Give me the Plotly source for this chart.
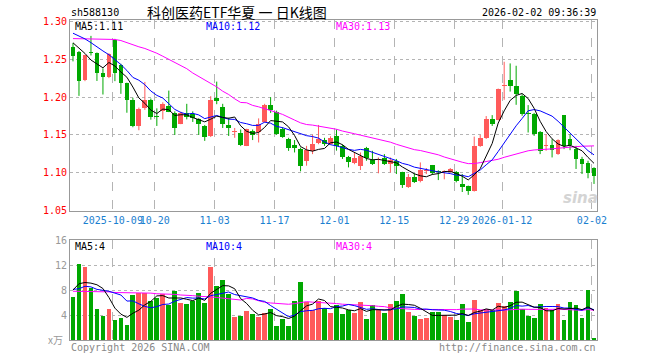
import numpy as np
import pandas as pd
import plotly.graph_objects as go

# ---------------- data ----------------
holidays = ["2025-10-01", "2025-10-02", "2025-10-03", "2025-10-06", "2025-10-07",
            "2025-10-08", "2026-01-01", "2026-01-02"]
dates = [d.strftime("%Y-%m-%d") for d in pd.bdate_range("2025-09-22", "2026-02-02")
         if d.strftime("%Y-%m-%d") not in holidays]

open_ = [1.2665, 1.2599, 1.2226, 1.2590, 1.2586, 1.2313, 1.2270, 1.2753, 1.2428, 1.2186,
         1.1963, 1.1617, 1.1853, 1.1967, 1.1752, 1.1814, 1.1880, 1.1792, 1.1647, 1.1783,
         1.1770, 1.1704, 1.1616, 1.1484, 1.1993, 1.1866, 1.1626, 1.1540, 1.1524, 1.1358,
         1.1555, 1.1534, 1.1674, 1.1889, 1.1800, 1.1580, 1.1450, 1.1362, 1.1318, 1.1156,
         1.1287, 1.1397, 1.1432, 1.1384, 1.1485, 1.1353, 1.1209, 1.1125, 1.1090, 1.1322,
         1.1165, 1.1160, 1.1187, 1.1112, 1.1156, 1.1003, 1.0805, 1.0937, 1.0893, 1.1016,
         1.1094, 1.1008, 1.1003, 1.1003, 1.1003, 1.0849, 1.0818, 1.0761, 1.1353, 1.1454,
         1.1713, 1.1700, 1.2147, 1.2226, 1.2147, 1.2015, 1.1779, 1.1779, 1.1542, 1.1357,
         1.1366, 1.1252, 1.1757, 1.1450, 1.1318, 1.1178, 1.1121, 1.1055]
high = [1.2717, 1.2610, 1.2560, 1.2810, 1.2590, 1.2380, 1.2580, 1.2770, 1.2440, 1.2190,
        1.1990, 1.1860, 1.2200, 1.1980, 1.1850, 1.1930, 1.2085, 1.1810, 1.1805, 1.1910,
        1.1810, 1.1720, 1.1630, 1.2011, 1.2204, 1.1910, 1.1726, 1.1590, 1.1570, 1.1580,
        1.1570, 1.1717, 1.1910, 1.1998, 1.1820, 1.1600, 1.1460, 1.1430, 1.1330, 1.1353,
        1.1500, 1.1630, 1.1460, 1.1480, 1.1570, 1.1370, 1.1220, 1.1266, 1.1266, 1.1340,
        1.1288, 1.1200, 1.1244, 1.1200, 1.1180, 1.1010, 1.0980, 1.0990, 1.1134, 1.1060,
        1.1100, 1.1030, 1.1030, 1.1060, 1.1020, 1.0980, 1.0827, 1.1476, 1.1498, 1.1748,
        1.1760, 1.2112, 1.2467, 1.2445, 1.2414, 1.2037, 1.1893, 1.1790, 1.1550, 1.1507,
        1.1441, 1.1440, 1.1757, 1.1507, 1.1353, 1.1208, 1.1156, 1.1070]
low = [1.2472, 1.2015, 1.2210, 1.2550, 1.2213, 1.2033, 1.2250, 1.2210, 1.2042, 1.1792,
       1.1600, 1.1560, 1.1830, 1.1700, 1.1617, 1.1704, 1.1800, 1.1498, 1.1640, 1.1704,
       1.1670, 1.1498, 1.1419, 1.1470, 1.1905, 1.1590, 1.1484, 1.1460, 1.1350, 1.1350,
       1.1430, 1.1398, 1.1660, 1.1790, 1.1500, 1.1460, 1.1287, 1.1266, 1.1016, 1.1090,
       1.1244, 1.1375, 1.1353, 1.1370, 1.1290, 1.1180, 1.1068, 1.1110, 1.1033, 1.1156,
       1.1100, 1.0990, 1.1100, 1.1000, 1.0980, 1.0796, 1.0796, 1.0862, 1.0870, 1.0980,
       1.0970, 1.0900, 1.0910, 1.1000, 1.0870, 1.0742, 1.0704, 1.0748, 1.1340, 1.1445,
       1.1617, 1.1690, 1.1963, 1.2072, 1.1897, 1.1752, 1.1530, 1.1485, 1.1244, 1.1288,
       1.1200, 1.1234, 1.1310, 1.1296, 1.1047, 1.0980, 1.0924, 1.0849]
close = [1.2542, 1.2217, 1.2555, 1.2580, 1.2314, 1.2268, 1.2568, 1.2322, 1.2186, 1.1967,
         1.1617, 1.1848, 1.1963, 1.1739, 1.1740, 1.1911, 1.1805, 1.1586, 1.1783, 1.1739,
         1.1726, 1.1638, 1.1471, 1.1958, 1.1941, 1.1639, 1.1586, 1.1555, 1.1371, 1.1577,
         1.1502, 1.1647, 1.1893, 1.1823, 1.1515, 1.1472, 1.1322, 1.1322, 1.1090, 1.1296,
         1.1384, 1.1441, 1.1384, 1.1463, 1.1353, 1.1200, 1.1134, 1.1187, 1.1222, 1.1187,
         1.1112, 1.1166, 1.1112, 1.1165, 1.1090, 1.0836, 1.0945, 1.0880, 1.1033, 1.1025,
         1.0989, 1.1003, 1.1015, 1.1046, 1.0884, 1.0805, 1.0761, 1.1353, 1.1454, 1.1713,
         1.1647, 1.2108, 1.2160, 1.2147, 1.2042, 1.1779, 1.1772, 1.1516, 1.1287, 1.1362,
         1.1296, 1.1432, 1.1353, 1.1366, 1.1178, 1.1112, 1.0994, 1.0958]
volume = [6.9, 12.2, 11.7, 8.4, 5.0, 3.9, 5.0, 3.2, 3.6, 2.4,
          7.2, 7.5, 7.5, 6.3, 6.8, 7.4, 5.6, 7.8, 6.0, 5.8,
          6.3, 7.6, 6.0, 11.7, 8.6, 9.6, 7.4, 3.7, 3.8, 4.7,
          4.2, 3.7, 4.4, 5.0, 2.2, 3.4, 2.2, 6.3, 9.3, 6.1,
          4.8, 6.3, 5.1, 4.4, 5.6, 4.2, 4.8, 4.4, 6.1, 3.4,
          5.6, 4.8, 4.4, 5.8, 6.3, 7.4, 4.5, 3.8, 3.4, 3.5,
          4.5, 4.5, 4.0, 3.7, 3.2, 5.8, 2.9, 6.4, 4.8, 5.0,
          4.8, 6.0, 5.5, 6.1, 7.8, 4.9, 3.9, 3.6, 5.8, 5.2,
          4.8, 5.8, 3.2, 6.1, 5.6, 3.6, 8.0, 0.4]

# moving-average values before enough history exists in this window
ma5_head = [1.2718, 1.2650, 1.2577, 1.2490]
ma10_head = [1.2845, 1.2810, 1.2770, 1.2720, 1.2660, 1.2610, 1.2560, 1.2500, 1.2430]
ma30_head = [1.2774, 1.2772, 1.2770, 1.2768, 1.2767, 1.2766, 1.2765, 1.2762, 1.2748, 1.2718,
             1.2687, 1.2665, 1.2643, 1.2615, 1.2580, 1.2540, 1.2498, 1.2458, 1.2419, 1.2375,
             1.2318, 1.2274, 1.2231, 1.2178, 1.2134, 1.2077, 1.2033, 1.1976, 1.1928]
vma5_head = [8.0, 9.0, 9.2, 9.1]
vma10_head = [8.1, 8.2, 8.6, 8.5, 8.1, 8.0, 7.8, 7.5, 7.2]
vma30_head = [7.8, 7.8, 7.8, 7.8, 7.7, 7.7, 7.7, 7.6, 7.6, 7.6,
              7.6, 7.5, 7.5, 7.5, 7.4, 7.4, 7.3, 7.3, 7.2, 7.2,
              7.1, 7.0, 7.0, 6.9, 6.8, 6.7, 6.6, 6.5, 6.4]

price_ticks = [1.05, 1.10, 1.15, 1.20, 1.25, 1.30]
vol_ticks = [4, 8, 12, 16]
date_ticks = ["2025-10-09", "2025-10-20", "2025-11-03", "2025-11-17", "2025-12-01",
              "2025-12-15", "2025-12-29", "2026-01-12", "2026-02-02"]
date_tick_text = ["2025-10-09", "10-20", "11-03", "11-17", "12-01", "12-15", "12-29",
                  "2026-01-12", "02-02"]
ma_labels = ["MA5:1.11", "MA10:1.12", "MA30:1.13"]
vma_labels = ["MA5:4", "MA10:4", "MA30:4"]

# ---------------- derived ----------------
n = len(dates)
assert n == len(close) == len(volume) == 88
idx = np.arange(n)
O, H, L, C, V = map(np.array, (open_, high, low, close, volume))


def moving(vals, w, head):
    s = pd.Series(vals).rolling(w).mean().to_numpy()
    s[:w - 1] = head
    return s


ma5, ma10, ma30 = moving(C, 5, ma5_head), moving(C, 10, ma10_head), moving(C, 30, ma30_head)
vma5, vma10, vma30 = moving(V, 5, vma5_head), moving(V, 10, vma10_head), moving(V, 30, vma30_head)

RED, GREEN = "#ff5a5a", "#00a800"
up = C >= O
colors = np.where(up, RED, GREEN)
body_base = np.minimum(O, C)
body_h = np.maximum(np.abs(C - O), 0.0012)

fig = go.Figure()
fig.add_trace(go.Bar(x=idx, y=body_h, base=body_base, width=0.8,
                     marker=dict(color=colors, line=dict(width=0)),
                     xaxis="x", yaxis="y", hoverinfo="skip"))


def wick_xy(mask):
    xs, ys = [], []
    for i in idx[mask]:
        xs += [i, i, None]
        ys += [L[i], H[i], None]
    return xs, ys


for mask, col in ((up, RED), (~up, GREEN)):
    wx, wy = wick_xy(mask)
    fig.add_trace(go.Scatter(x=wx, y=wy, mode="lines", line=dict(color=col, width=1),
                             xaxis="x", yaxis="y", hoverinfo="skip"))

for s, col in ((ma30, "#ff00ff"), (ma10, "#0000ff"), (ma5, "#000000")):
    fig.add_trace(go.Scatter(x=idx, y=s, mode="lines", line=dict(color=col, width=1),
                             xaxis="x", yaxis="y"))

fig.add_trace(go.Bar(x=idx, y=V, width=0.8, marker=dict(color=colors, line=dict(width=0)),
                     xaxis="x2", yaxis="y2", hoverinfo="skip"))
for s, col in ((vma30, "#ff00ff"), (vma10, "#0000ff"), (vma5, "#000000")):
    fig.add_trace(go.Scatter(x=idx, y=s, mode="lines", line=dict(color=col, width=1),
                             xaxis="x2", yaxis="y2"))

tickpos = [dates.index(d) - 0.35 for d in date_ticks]
MONO = "DejaVu Sans Mono"
axis_common = dict(showline=True, linecolor="#999999", linewidth=1, mirror=True,
                   zeroline=False, ticks="", automargin=False)
xcommon = dict(range=[-0.5, n - 0.5], tickvals=tickpos, showgrid=True, tickangle=0,
               gridcolor="#b4b4b4", griddash="dash", gridwidth=1, **axis_common)

fig.update_layout(
    width=660, height=360, margin=dict(l=70, r=63, t=20, b=20, autoexpand=False),
    paper_bgcolor="white", plot_bgcolor="white", showlegend=False, bargap=0,
    xaxis=dict(domain=[0, 1], anchor="y", ticktext=date_tick_text,
               tickfont=dict(family=MONO, size=10, color="#1a80d0"), **xcommon),
    xaxis2=dict(domain=[0, 1], anchor="y2", matches="x", showticklabels=False, **xcommon),
    yaxis=dict(domain=[0.403, 1], range=[1.049, 1.302], tickvals=price_ticks,
               ticktext=[f"{t:.2f}" for t in price_ticks],
               tickfont=dict(family=MONO, size=10, color="#ff0000"),
               showgrid=True, gridcolor="#b4b4b4", griddash="dot", **axis_common),
    yaxis2=dict(domain=[0, 0.3125], range=[0, 16], tickvals=vol_ticks,
                tickfont=dict(family=MONO, size=10, color="#999999"),
                showgrid=True, gridcolor="#b4b4b4", griddash="dot", **axis_common),
)


def px(xp):
    return (xp - 70) / 527.0


def py(yp):
    return (340 - yp) / 320.0


ann = []


def add(text, x, y, xa="left", color="#000000", size=10, family=MONO, **kw):
    ann.append(dict(text=text, x=px(x), y=py(y), xref="paper", yref="paper",
                    xanchor=xa, yanchor="middle", showarrow=False,
                    font=dict(family=family, size=size, color=color), **kw))


add("sh588130", 69, 13)
add("科创医药ETF华夏 一 日K线图", 237, 12, xa="center", size=14,
    family="Noto Sans CJK SC")
add("2026-02-02 09:36:39", 598, 13, xa="right")
for lab, xx, col in zip(ma_labels, (73, 204, 334), ("#000000", "#0000ff", "#ff00ff")):
    add(lab, xx, 27, color=col)
for lab, xx, col in zip(vma_labels, (73, 204, 334), ("#000000", "#0000ff", "#ff00ff")):
    add(lab, xx, 246, color=col)
add("x万", 65, 339, xa="right", color="#999999", size=10, family="Noto Sans CJK SC")
add("Copyright 2026 SINA.COM", 69, 347, color="#888888")
add("http://finance.sina.com.cn", 598, 347, xa="right", color="#888888")
add("<b><i>sina</i></b>", 580, 198, xa="center", color="#d4d4d4", size=15,
    family="DejaVu Sans")
fig.update_layout(annotations=ann)

# remove the browser's default 8px page margin so the 660x360 figure fills the window
fig.write_html("out.html",
               config={"displayModeBar": False, "staticPlot": True},
               post_script="document.body.style.margin='0';"
                           "document.body.style.overflow='hidden';")
